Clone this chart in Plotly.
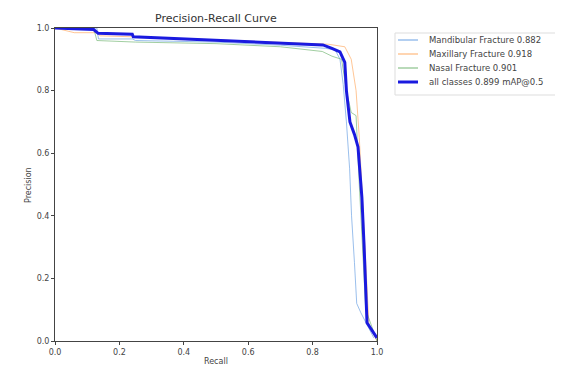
import plotly.graph_objects as go

# ---- data ----
mand_r = [0, 0.13, 0.135, 0.24, 0.25, 0.5, 0.7, 0.84, 0.87, 0.885, 0.895, 0.905, 0.915, 0.921, 0.93, 0.937, 0.95, 0.99]
mand_p = [1.0, 1.0, 0.965, 0.965, 0.96, 0.955, 0.945, 0.935, 0.93, 0.90, 0.82, 0.70, 0.55, 0.40, 0.25, 0.12, 0.09, 0.01]

maxi_r = [0, 0.06, 0.13, 0.14, 0.3, 0.5, 0.7, 0.85, 0.9, 0.92, 0.935, 0.945, 0.955, 0.965, 0.975, 1.0]
maxi_p = [1.0, 0.985, 0.985, 0.975, 0.97, 0.962, 0.955, 0.948, 0.94, 0.90, 0.80, 0.65, 0.45, 0.25, 0.05, 0.0]

nasal_r = [0, 0.12, 0.13, 0.25, 0.5, 0.7, 0.83, 0.86, 0.89, 0.905, 0.92, 0.935, 0.945, 0.955, 0.965, 1.0]
nasal_p = [1.0, 1.0, 0.96, 0.955, 0.95, 0.94, 0.925, 0.91, 0.90, 0.80, 0.73, 0.72, 0.5, 0.3, 0.1, 0.0]

all_r = [0, 0.067, 0.12, 0.134, 0.24, 0.243, 0.4, 0.6, 0.75, 0.832, 0.86, 0.885, 0.9, 0.905, 0.916, 0.93, 0.941, 0.953, 0.96, 0.969, 1.0]
all_p = [1.0, 0.996, 0.995, 0.983, 0.98, 0.972, 0.965, 0.955, 0.948, 0.946, 0.935, 0.924, 0.89, 0.80, 0.70, 0.66, 0.62, 0.46, 0.30, 0.058, 0.01]

labels = ["Mandibular Fracture 0.882", "Maxillary Fracture 0.918",
          "Nasal Fracture 0.901", "all classes 0.899 mAP@0.5"]
tick_vals = [0, 0.2, 0.4, 0.6, 0.8, 1.0]
tick_text = ["0.0", "0.2", "0.4", "0.6", "0.8", "1.0"]

FONT = "DejaVu Sans"
OFF = 8  # page body margin
W, H = 563 - OFF, 367 - OFF
L, R, T, B = 55 - OFF, 377 - OFF, 28 - OFF, 341 - OFF  # plot area in figure pixels

colors = ["rgba(120,170,230,0.75)", "rgba(255,160,80,0.6)",
          "rgba(110,180,110,0.65)", "#1a1adf"]
widths = [1, 1, 1, 3]
series = [(mand_r, mand_p), (maxi_r, maxi_p), (nasal_r, nasal_p), (all_r, all_p)]

fig = go.Figure()
for (r, p), lab, c, w in zip(series, labels, colors, widths):
    fig.add_trace(go.Scatter(x=r, y=p, mode="lines", name=lab,
                             line=dict(color=c, width=w), showlegend=False))

axis_common = dict(range=[0, 1], tickvals=tick_vals, ticktext=tick_text,
                   showgrid=False, zeroline=False, showline=True, mirror=True,
                   linecolor="#444", linewidth=1, ticks="outside", ticklen=3,
                   tickcolor="#444", automargin=False,
                   tickfont=dict(size=8, color="#444", family=FONT))


def px(xpix):  # screen pixel -> paper
    return (xpix - OFF - L) / (R - L)


def py(ypix):
    return (B - (ypix - OFF)) / (B - T)


# manual matplotlib-style legend
shapes = [dict(type="rect", xref="paper", yref="paper",
               x0=px(395), x1=px(558), y0=py(95), y1=py(33),
               line=dict(color="#ddd", width=1), fillcolor="white")]
annotations = []
for i, (lab, c, w) in enumerate(zip(labels, colors, widths)):
    yy = 40 + 14 * i
    shapes.append(dict(type="line", xref="paper", yref="paper",
                       x0=px(398), x1=px(418), y0=py(yy), y1=py(yy),
                       line=dict(color=c, width=w + 0.5 if w == 1 else w)))
    annotations.append(dict(text=lab, xref="paper", yref="paper",
                            x=px(427), y=py(yy), xanchor="left", yanchor="middle",
                            showarrow=False,
                            font=dict(size=8.5, color="#444", family=FONT)))

annotations.append(dict(text="Recall", xref="paper", yref="paper",
                        x=px(216), y=py(361), xanchor="center", yanchor="middle",
                        showarrow=False, font=dict(size=8, color="#444", family=FONT)))
annotations.append(dict(text="Precision", xref="paper", yref="paper",
                        x=px(28), y=py(185), xanchor="center", yanchor="middle",
                        textangle=-90, showarrow=False,
                        font=dict(size=8, color="#444", family=FONT)))
annotations.append(dict(text="Precision-Recall Curve", xref="paper", yref="paper",
                        x=px(216), y=py(18), xanchor="center", yanchor="middle",
                        showarrow=False, font=dict(size=11, color="#333", family=FONT)))

fig.update_layout(
    width=W, height=H,
    margin=dict(l=L, r=W - R, t=T, b=H - B),
    paper_bgcolor="white", plot_bgcolor="white",
    xaxis=axis_common,
    yaxis=axis_common,
    shapes=shapes,
    annotations=annotations,
    showlegend=False,
)

fig.write_html("out.html")
